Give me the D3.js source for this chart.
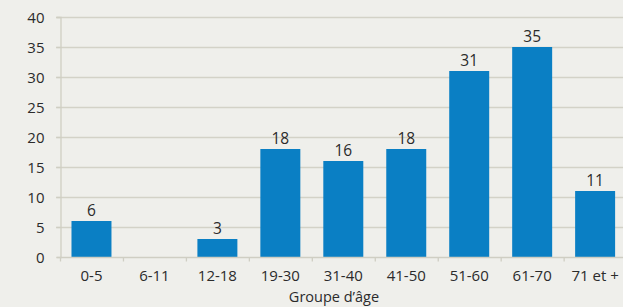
<!DOCTYPE html>
<html><head><meta charset="utf-8">
<script src="https://cdn.jsdelivr.net/npm/d3@7"></script>
<style>html,body{margin:0;padding:0;background:#efefeb;overflow:hidden}</style>
</head><body><svg id="c" width="623" height="307"></svg>
<script>
const categories = ["0-5","6-11","12-18","19-30","31-40","41-50","51-60","61-70","71 et +"];
const values = [6,0,3,18,16,18,31,35,11];
const yTicks = [0,5,10,15,20,25,30,35,40];
const xTitle = "Groupe d\u2019\u00e2ge";

(function(){
const svg = d3.select("#c");
const W = 623, H = 307;
const mLeft = 60, mRight = 626.6, mTop = 17, mBottom = 257;
svg.append("rect").attr("width",W).attr("height",H).attr("fill","#efefeb");
const font = "'Open Sans', sans-serif";
const txt = "#2b2b2b";
const data = categories.map((c,i)=>({c, v: values[i]}));
const x = d3.scaleBand().domain(categories).range([mLeft,mRight]).paddingInner(0.365).paddingOuter(0.1825);
const y = d3.scaleLinear().domain([0,40]).range([mBottom,mTop]);

svg.append("g").selectAll("line").data(yTicks.filter(d=>d>0)).join("line")
  .attr("x1",mLeft-4).attr("x2",W).attr("y1",d=>y(d)+0.5).attr("y2",d=>y(d)+0.5)
  .attr("stroke","#d3d2c7").attr("stroke-width",1.3);

const ya = svg.append("g").attr("transform",`translate(${mLeft+0.5},0)`)
  .call(d3.axisLeft(y).tickValues(yTicks).tickSize(4).tickPadding(12));
ya.select(".domain").attr("stroke","#cfcec3").attr("stroke-width",1.3);
ya.selectAll(".tick line").attr("stroke","#cfcec3").attr("stroke-width",1.3);
ya.selectAll("text").attr("font-family",font).attr("font-size",15).attr("fill",txt).attr("dy","0.36em");

svg.append("g").selectAll("rect").data(data).join("rect")
  .attr("x",d=>x(d.c)).attr("width",x.bandwidth())
  .attr("y",d=>y(d.v)).attr("height",d=>y(0)-y(d.v)).attr("fill","#0a7fc4");

const xb = d3.scaleLinear().domain([0,categories.length]).range([mLeft,mRight]);
const xa = svg.append("g").attr("transform",`translate(0,${mBottom+0.5})`);
xa.append("line").attr("x1",mLeft).attr("x2",W).attr("stroke","#cfcec3").attr("stroke-width",1.3);
xa.selectAll("line.t").data(d3.range(categories.length+1)).join("line").attr("class","t")
  .attr("x1",d=>xb(d)+0.5).attr("x2",d=>xb(d)+0.5).attr("y1",0).attr("y2",4)
  .attr("stroke","#cfcec3").attr("stroke-width",1.3);
xa.selectAll("text").data(categories).join("text")
  .attr("x",d=>x(d)+x.bandwidth()/2).attr("y",23).attr("text-anchor","middle")
  .attr("font-family",font).attr("font-size",15).attr("fill",txt).text(d=>d);

svg.append("g").selectAll("text").data(data.filter(d=>d.v>0)).join("text")
  .attr("x",d=>x(d.c)+x.bandwidth()/2).attr("y",d=>y(d.v)-5)
  .attr("text-anchor","middle").attr("font-family",font).attr("font-size",15.5).attr("fill",txt)
  .text(d=>d.v);

svg.append("text").attr("x",334).attr("y",302).attr("text-anchor","middle")
  .attr("font-family",font).attr("font-size",14.5).attr("fill",txt).text(xTitle);
})();
</script></body></html>
